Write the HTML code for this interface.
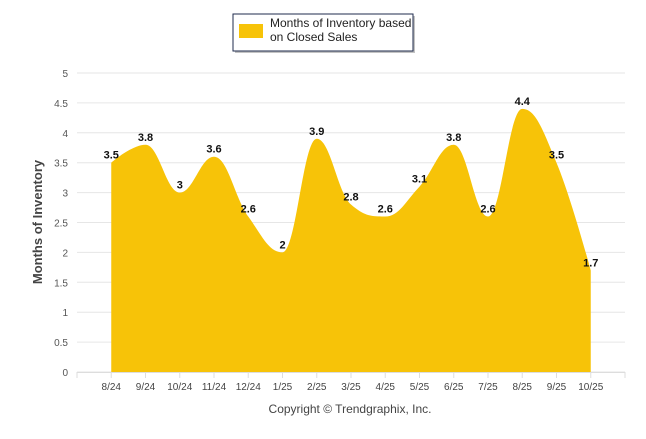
<!DOCTYPE html>
<html><head><meta charset="utf-8"><style>
body{margin:0;background:#fff;font-family:"Liberation Sans",sans-serif}
svg text{font-family:"Liberation Sans",sans-serif}
</style></head><body>
<svg width="646" height="434">
<g>
<rect x="235" y="16" width="180" height="37" fill="#888" opacity="0.5"/>
<rect x="233" y="14" width="180" height="37" fill="#fff" stroke="#1f2b4d" stroke-width="1"/>
<rect x="239" y="24" width="24" height="14" fill="#f7c308"/>
<text x="270" y="27" font-size="12" fill="#222">Months of Inventory based</text>
<text x="270" y="41" font-size="12" fill="#222">on Closed Sales</text>
</g>
<g id="grid"></g>
<path id="area" fill="#f7c308"/>
<g id="axes"></g>
<g id="labels"></g>
<text transform="translate(42,222) rotate(-90)" text-anchor="middle" font-size="13" font-weight="bold" fill="#444">Months of Inventory</text>
<text x="350" y="413" text-anchor="middle" font-size="12" fill="#444">Copyright © Trendgraphix, Inc.</text>
</svg>
<script>
const categories=["8/24","9/24","10/24","11/24","12/24","1/25","2/25","3/25","4/25","5/25","6/25","7/25","8/25","9/25","10/25"];
const values=[3.5,3.8,3,3.6,2.6,2,3.9,2.8,2.6,3.1,3.8,2.6,4.4,3.5,1.7];
const yTicks=[0,0.5,1,1.5,2,2.5,3,3.5,4,4.5,5];
const NS="http://www.w3.org/2000/svg";
const x0=77,x1=625,y0=372,yTop=73;
const step=(x1-x0)/(categories.length+1);
function X(i){return x0+step*(i+1);}
function Y(v){return y0-(v/5)*(y0-yTop);}
function mk(tag,attrs,parent){const e=document.createElementNS(NS,tag);for(const k in attrs)e.setAttribute(k,attrs[k]);parent.appendChild(e);return e;}
const grid=document.getElementById('grid'),axes=document.getElementById('axes'),labels=document.getElementById('labels');
yTicks.forEach(t=>{
 const l=mk('line',{x1:x0,x2:x1,y1:Y(t),y2:Y(t),stroke:'#e6e6e6','stroke-width':1},grid);
 
 
 const tx=mk('text',{x:68,y:Y(t)+4,'text-anchor':'end','font-size':10,fill:'#555'},axes);
 tx.textContent=t;
 
 
});
mk('line',{x1:x0,x2:x1,y1:y0+0.5,y2:y0+0.5,stroke:'#ddd'},axes);
for(let i=-1;i<=categories.length;i++){mk('line',{x1:X(i),x2:X(i),y1:y0,y2:y0+6,stroke:'#ddd'},axes);}
categories.forEach((c,i)=>{
 const t=mk('text',{x:X(i),y:390,'text-anchor':'middle','font-size':10,fill:'#444'},axes);
 t.textContent=c;
 
 
});
const pts=values.map((v,i)=>({x:X(i),y:Y(v)}));
const s=1.5,den=2.5;let d=`M${pts[0].x},${y0} L${pts[0].x},${pts[0].y}`;
let prevR=[pts[0].x,pts[0].y];
for(let i=1;i<pts.length;i++){
 const p=pts[i],l=pts[i-1],n=pts[i+1];let lc=[p.x,p.y],rc=[p.x,p.y];
 if(n){
  let lx=(s*p.x+l.x)/den,ly=(s*p.y+l.y)/den,rx=(s*p.x+n.x)/den,ry=(s*p.y+n.y)/den;
  const corr=((ry-ly)*(rx-p.x))/(rx-lx)+p.y-ry;ly+=corr;ry+=corr;
  if(ly>l.y&&ly>p.y){ly=Math.max(l.y,p.y);ry=2*p.y-ly;}else if(ly<l.y&&ly<p.y){ly=Math.min(l.y,p.y);ry=2*p.y-ly;}
  if(ry>n.y&&ry>p.y){ry=Math.max(n.y,p.y);ly=2*p.y-ry;}else if(ry<n.y&&ry<p.y){ry=Math.min(n.y,p.y);ly=2*p.y-ry;}
  lc=[lx,ly];rc=[rx,ry];
 }
 d+=` C${prevR[0]},${prevR[1]} ${lc[0]},${lc[1]} ${p.x},${p.y}`;prevR=rc;
}
d+=` L${pts[pts.length-1].x},${y0} Z`;
document.getElementById('area').setAttribute('d',d);
values.forEach((v,i)=>{
 const t=mk('text',{x:X(i),y:Y(v)-4,'text-anchor':'middle','font-size':11,'font-weight':'bold',fill:'#111'},labels);
 t.textContent=v;
 
 
});
</script>
</body></html>
